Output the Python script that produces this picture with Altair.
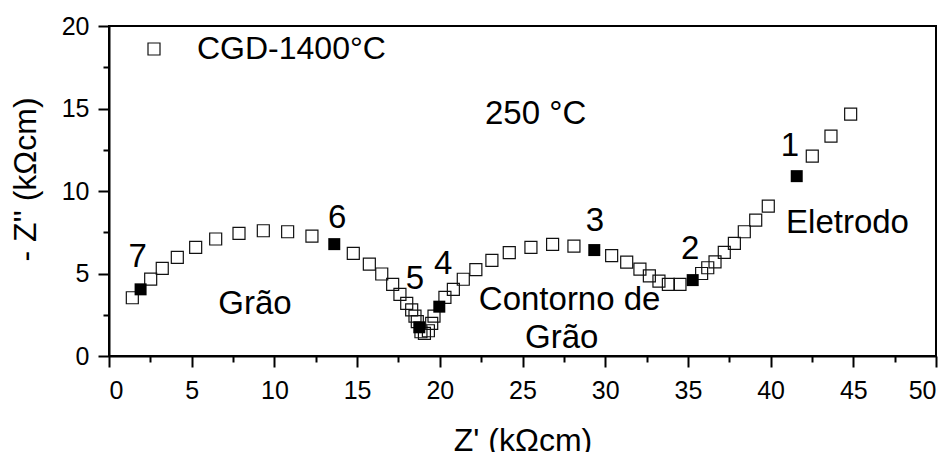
import altair as alt
import pandas as pd

FONT = "Liberation Sans"

# open squares (Z', -Z'')
open_x = [1.41, 2.52, 3.22, 4.13, 5.24, 6.45, 7.86, 9.33, 10.80, 12.27,
          14.77, 15.74, 16.49, 17.15, 17.59, 18.00, 18.30, 18.50, 18.64,
          18.86, 19.07, 19.31, 19.51, 19.65,
          20.31, 20.82, 21.42, 22.18, 23.15, 24.20, 25.51, 26.82, 28.11,
          30.39, 31.30, 32.10, 32.67, 33.25, 33.82, 34.52,
          35.83, 36.20, 36.64, 37.20, 37.81, 38.41, 39.10, 39.86,
          42.52, 43.65, 44.84]
open_y = [3.53, 4.66, 5.31, 5.98, 6.58, 7.09, 7.43, 7.59, 7.53, 7.27,
          6.22, 5.57, 4.97, 4.34, 3.74, 3.19, 2.79, 2.42, 2.08,
          1.47, 1.37, 1.53, 1.98, 2.42,
          3.55, 4.04, 4.65, 5.24, 5.79, 6.26, 6.58, 6.76, 6.66,
          6.08, 5.69, 5.27, 4.86, 4.54, 4.34, 4.34,
          5.00, 5.35, 5.71, 6.28, 6.82, 7.53, 8.24, 9.08,
          12.11, 13.33, 14.66]

# filled (highlighted) squares 1..7
filled_x = [41.58, 35.29, 29.34, 19.97, 18.76, 13.62, 1.91]
filled_y = [10.90, 4.60, 6.42, 2.99, 1.74, 6.78, 4.04]

# number labels
num_text = ["1", "2", "3", "4", "5", "6", "7"]
num_x = [41.17, 35.13, 29.38, 20.21, 18.50, 13.80, 1.74]
num_y = [12.11, 5.88, 7.59, 4.95, 4.04, 7.73, 5.41]

# centred region labels
reg_text = ["Grão", "Contorno de", "Grão", "Eletrodo"]
reg_x = [8.83, 27.85, 27.37, 44.65]
reg_y = [2.54, 2.79, 0.47, 7.43]

# left aligned label
temp_text = ["250 °C"]
temp_x = [22.73]
temp_y = [14.09]

series_name = "CGD-1400°C"

df_open = pd.DataFrame({"x": open_x, "y": open_y, "series": [series_name] * len(open_x)})
df_fill = pd.DataFrame({"x": filled_x, "y": filled_y})
df_num = pd.DataFrame({"x": num_x, "y": num_y, "t": num_text})
df_reg = pd.DataFrame({"x": reg_x, "y": reg_y, "t": reg_text})
df_temp = pd.DataFrame({"x": temp_x, "y": temp_y, "t": temp_text})

xs = alt.Scale(domain=[0, 50], nice=False, zero=False)
ys = alt.Scale(domain=[0, 20], nice=False, zero=False)

tick_cond = {"condition": {"test": "datum.value % 5 === 0", "value": 11}, "value": 6}

xaxis = alt.Axis(
    title="Z' (kΩcm)",
    values=[i * 2.5 for i in range(21)],
    labelExpr="datum.value % 5 === 0 ? datum.label : ''",
    tickSize=tick_cond,
    labelPadding=11,
    titleY=94,
    titleBaseline="alphabetic",
    grid=False,
)
yaxis = alt.Axis(
    title="- Z'' (kΩcm)",
    values=[i * 2.5 for i in range(9)],
    labelExpr="datum.value % 5 === 0 ? datum.label : ''",
    tickSize=tick_cond,
    labelPadding=9,
    titleX=-84,
    titleY=153,
    titleAngle=-90,
    titleAlign="center",
    titleBaseline="middle",
    grid=False,
)

X = alt.X("x:Q", scale=xs, axis=xaxis)
Y = alt.Y("y:Q", scale=ys, axis=yaxis)

open_layer = alt.Chart(df_open).mark_point(
    shape="square", filled=False, size=144, strokeWidth=1.2, color="#111111", opacity=1
).encode(
    x=X,
    y=Y,
    shape=alt.Shape(
        "series:N",
        scale=alt.Scale(range=["square"]),
        legend=alt.Legend(
            title=None,
            orient="none",
            legendX=29,
            legendY=7,
            padding=0,
            labelFont=FONT,
            labelFontSize=32,
            labelColor="black",
            labelOffset=27,
            labelLimit=0,
            symbolSize=144,
            symbolStrokeWidth=1.2,
            symbolStrokeColor="#111111",
            symbolFillColor="transparent",
        ),
    ),
)

fill_layer = alt.Chart(df_fill).mark_point(
    shape="square", filled=True, size=144, color="black", opacity=1
).encode(x="x:Q", y="y:Q")

num_layer = alt.Chart(df_num).mark_text(
    font=FONT, fontSize=33, align="center", baseline="alphabetic", color="black"
).encode(x="x:Q", y="y:Q", text="t:N")

reg_layer = alt.Chart(df_reg).mark_text(
    font=FONT, fontSize=33, align="center", baseline="alphabetic", color="black"
).encode(x="x:Q", y="y:Q", text="t:N")

temp_layer = alt.Chart(df_temp).mark_text(
    font=FONT, fontSize=33, align="left", baseline="alphabetic", color="black"
).encode(x="x:Q", y="y:Q", text="t:N")

chart = alt.layer(open_layer, fill_layer, num_layer, reg_layer, temp_layer).properties(
    width=827,
    height=330,
    autosize=alt.AutoSizeParams(type="none"),
    padding={"left": 101, "top": 18, "right": 8, "bottom": 96},
).configure_view(
    stroke="black", strokeWidth=2
).configure_axis(
    domainColor="black",
    domainWidth=2,
    tickColor="black",
    tickWidth=2,
    labelFont=FONT,
    labelFontSize=25,
    labelColor="black",
    titleFont=FONT,
    titleFontSize=32,
    titleFontWeight="normal",
    titleColor="black",
)

chart.save("out.html", embed_options={"renderer": "svg", "actions": False})
